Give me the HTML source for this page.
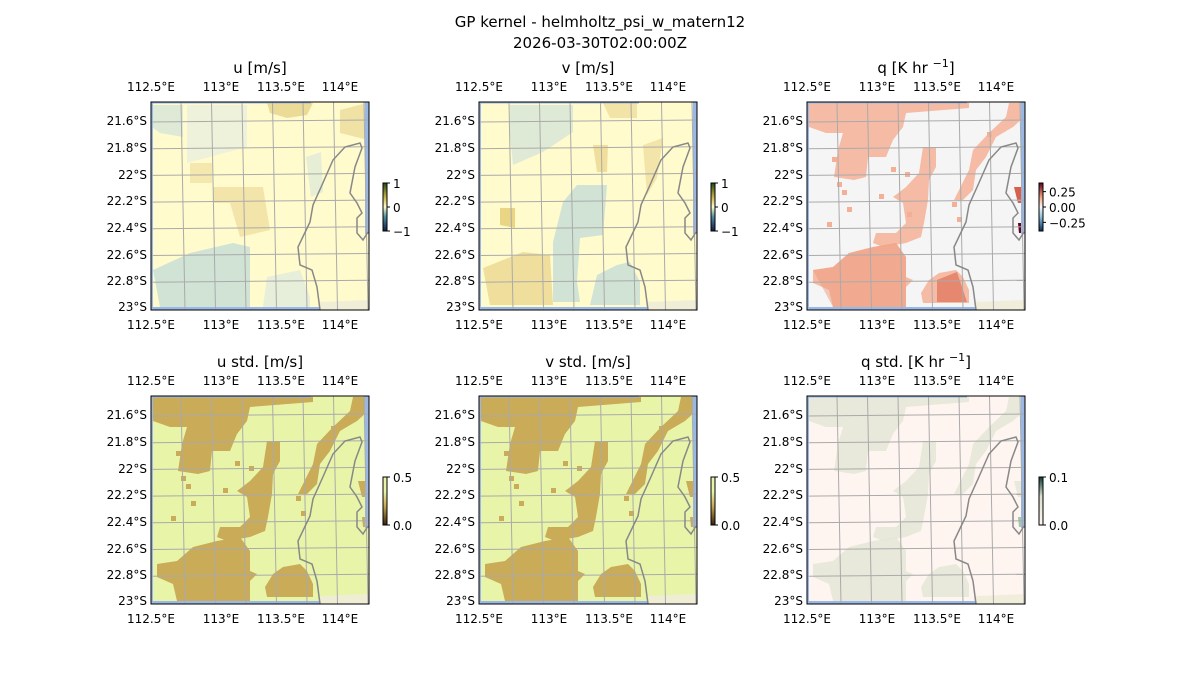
<!DOCTYPE html>
<html><head><meta charset="utf-8"><style>
body{margin:0;background:#fff;}
svg{display:block;font-family:"DejaVu Sans","Liberation Sans",sans-serif;}
</style></head><body>
<svg id="s" width="1200" height="700" xmlns="http://www.w3.org/2000/svg">
<defs>
<linearGradient id="gu" x1="0" y1="1" x2="0" y2="0"><stop offset="0" stop-color="#111d4a"/><stop offset="0.3" stop-color="#4f8fa0"/><stop offset="0.5" stop-color="#fffbcc"/><stop offset="0.7" stop-color="#c9b446"/><stop offset="1" stop-color="#1f4a18"/></linearGradient>
<linearGradient id="gq" x1="0" y1="1" x2="0" y2="0"><stop offset="0" stop-color="#053061"/><stop offset="0.3" stop-color="#92c5de"/><stop offset="0.5" stop-color="#f7f7f7"/><stop offset="0.7" stop-color="#f4a582"/><stop offset="1" stop-color="#67001f"/></linearGradient>
<linearGradient id="gs" x1="0" y1="1" x2="0" y2="0"><stop offset="0" stop-color="#3a2108"/><stop offset="0.4" stop-color="#c8aa55"/><stop offset="0.7" stop-color="#e8f5a8"/><stop offset="1" stop-color="#e8f5a8"/></linearGradient>
<linearGradient id="gqs" x1="0" y1="1" x2="0" y2="0"><stop offset="0" stop-color="#fff5f0"/><stop offset="0.6" stop-color="#d8e0cc"/><stop offset="1" stop-color="#0b3b3b"/></linearGradient>
</defs>
<text x="600" y="27" font-size="15" text-anchor="middle">GP kernel - helmholtz_psi_w_matern12</text>
<text x="600" y="48" font-size="15" text-anchor="middle">2026-03-30T02:00:00Z</text>
</svg>
<script>
var S=document.getElementById('s'),ns='http://www.w3.org/2000/svg';
function el(t,a,p,txt){var e=document.createElementNS(ns,t);for(var k in a)e.setAttribute(k,a[k]);if(txt!=null)e.textContent=txt;(p||S).appendChild(e);return e;}
function poly(g,pts,fill,op){el('polygon',{points:pts.map(function(p){return p.join(',')}).join(' '),fill:fill,'fill-opacity':op||1},g);}
var Q=[
[[1,1],[162,1],[162,6],[99,11],[96,25],[86,38],[79,55],[61,55],[59,75],[47,78],[27,75],[31,48],[36,31],[19,31],[2,25]],
[[116,45],[129,45],[129,65],[122,78],[121,98],[117,121],[114,135],[99,141],[76,145],[66,141],[69,131],[89,131],[99,121],[96,101],[86,95],[99,85],[112,71]],
[[6,168],[26,165],[42,151],[66,145],[89,141],[99,155],[99,175],[106,178],[99,185],[99,205],[26,205],[22,188],[6,181]],
[[122,178],[132,171],[149,168],[156,175],[162,188],[162,201],[116,201],[114,191]],
[[202,1],[217,1],[217,15],[206,25],[189,35],[179,55],[169,68],[166,88],[156,98],[147,98],[152,88],[162,68],[166,48],[182,31],[199,15]],
[[207,85],[217,85],[217,101],[211,101]],
[[211,121],[217,121],[217,131],[212,131]]];
var QS=[[25,55],[30,80],[40,105],[84,65],[98,70],[35,88],[100,110],[72,92],[150,115],[145,100],[180,30],[20,120]];
var coast=[[169,208],[166,185],[161,168],[149,163],[147,145],[159,120],[162,103],[171,83],[182,58],[194,45],[209,41],[211,46],[204,65],[199,91],[206,101],[211,111],[206,116],[206,131],[212,138],[217,130]];
var panels=[
{x:151,y:102,t:'u [m/s]',bg:'#fffbcc',cb:'gu',ticks:[['1',0],['0',0.5],['\u22121',1]],draw:function(g){
 poly(g,[[1,3],[32,3],[32,35],[9,31],[1,25]],'#d2e3da',0.7);
 poly(g,[[36,3],[96,3],[96,45],[36,61]],'#e4ede2',0.6);
 poly(g,[[2,168],[39,151],[82,141],[99,145],[99,205],[9,205]],'#c6ddd6',0.8);
 poly(g,[[116,175],[149,168],[159,195],[159,205],[112,205]],'#dde9df',0.7);
 poly(g,[[116,1],[162,1],[156,13],[136,16],[119,11]],'#e6d38a',0.8);
 poly(g,[[189,8],[216,1],[217,38],[189,31]],'#ecdc9a',0.8);
 poly(g,[[62,85],[112,85],[119,128],[89,135],[79,101],[62,101]],'#f0e0a0',0.8);
 poly(g,[[39,61],[61,61],[61,81],[39,81]],'#f2e4a8',0.8);
 poly(g,[[155,55],[170,50],[172,90],[160,95]],'#d6e6dc',0.6);}},
{x:479,y:102,t:'v [m/s]',bg:'#fffbcc',cb:'gu',ticks:[['1',0],['0',0.5],['\u22121',1]],draw:function(g){
 poly(g,[[31,3],[94,3],[94,30],[64,50],[34,63],[31,33]],'#d2e3da',0.7);
 poly(g,[[98,83],[128,83],[124,133],[101,136],[98,180],[101,200],[74,200],[74,140],[84,100]],'#c6ddd6',0.8);
 poly(g,[[118,173],[138,163],[151,160],[161,180],[161,203],[111,203]],'#c6ddd6',0.8);
 poly(g,[[4,166],[44,150],[71,153],[74,203],[11,203]],'#ecd890',0.8);
 poly(g,[[124,1],[158,1],[158,16],[131,16]],'#efdf9c',0.8);
 poly(g,[[164,43],[184,36],[178,76],[168,93]],'#f0e0a0',0.8);
 poly(g,[[114,43],[129,43],[128,70],[118,70]],'#ecd890',0.8);
 poly(g,[[21,106],[36,106],[36,126],[21,123]],'#e4cc70',0.8);}},
{x:807,y:102,t:'q [K hr ',sup:true,bg:'#f5f5f5',cb:'gq',ticks:[['0.25',0.18],['0.00',0.5],['\u22120.25',0.82]],draw:function(g){
 Q.forEach(function(p){poly(g,p,'#f4b096',0.85);});
 poly(g,[[6,168],[26,165],[42,151],[66,145],[89,141],[99,155],[99,205],[26,205]],'#ee9a7c',0.5);
 poly(g,[[130,178],[150,170],[160,200],[130,200]],'#e0705a',0.7);
 poly(g,[[207,85],[217,85],[217,101],[211,101]],'#d6604d');
 poly(g,[[211,121],[217,121],[217,131],[212,131]],'#67001f');
 QS.forEach(function(p){el('rect',{x:p[0],y:p[1],width:5,height:5,fill:'#f4b096'},g);});}},
{x:151,y:396,t:'u std. [m/s]',bg:'#e8f5a8',cb:'gs',ticks:[['0.5',0],['0.0',1]],draw:function(g){
 Q.forEach(function(p){poly(g,p,'#c9ab58');});
 QS.forEach(function(p){el('rect',{x:p[0],y:p[1],width:5,height:5,fill:'#c9ab58'},g);});}},
{x:479,y:396,t:'v std. [m/s]',bg:'#e8f5a8',cb:'gs',ticks:[['0.5',0],['0.0',1]],draw:function(g){
 Q.forEach(function(p){poly(g,p,'#c9ab58');});
 QS.forEach(function(p){el('rect',{x:p[0],y:p[1],width:5,height:5,fill:'#c9ab58'},g);});}},
{x:807,y:396,t:'q std. [K hr ',sup:true,bg:'#fff5f0',cb:'gqs',ticks:[['0.1',0],['0.0',1]],draw:function(g){
 Q.forEach(function(p){poly(g,p,'#e2e6d6',0.8);});
 poly(g,[[211,121],[217,121],[217,131],[212,131]],'#a8c8a0');}}
];
var xt=[['112.5\u00B0E',0],['113\u00B0E',70],['113.5\u00B0E',130],['114\u00B0E',189]];
var yt=[['21.6\u00B0S',19],['21.8\u00B0S',46],['22\u00B0S',73],['22.2\u00B0S',99],['22.4\u00B0S',126],['22.6\u00B0S',153],['22.8\u00B0S',179],['23\u00B0S',205]];
panels.forEach(function(P){
 var W=218,H=208;
 var tt=el('text',{x:P.x+109,y:P.y-29,'font-size':15,'text-anchor':'middle'},null,P.t);
 if(P.sup){el('tspan',{dy:-6,'font-size':11},tt,'\u22121');el('tspan',{dy:6},tt,']');}
 var g=el('g',{transform:'translate('+P.x+','+P.y+')'});
 el('rect',{x:0,y:0,width:W,height:H,fill:P.bg},g);
 P.draw(g);
 el('rect',{x:214,y:0,width:4,height:132,fill:'#9ab8e6'},g);
 el('rect',{x:0,y:205,width:170,height:3,fill:'#9ab8e6'},g);
 el('rect',{x:0,y:0,width:2,height:H,fill:'#9ab8e6'},g);
 el('rect',{x:0,y:0,width:160,height:1.5,fill:'#9ab8e6'},g);
 el('polygon',{points:'169,208 168,200 218,198 218,208',fill:'#f0ecd8','fill-opacity':0.9},g);
 for(var i=1;i<8;i++){var y=19+i*26.7-26.7;el('line',{x1:0,y1:y+1,x2:W,y2:y-1,stroke:'#aaaaaa','stroke-width':1},g);}
 for(var j=0;j<7;j++){var x=32+j*30.5;el('line',{x1:x-2,y1:0,x2:x+2,y2:H,stroke:'#aaaaaa','stroke-width':1},g);}
 el('polyline',{points:coast.map(function(p){return p.join(',')}).join(' '),fill:'none',stroke:'#888','stroke-width':1.5},g);
 el('rect',{x:0,y:0,width:W,height:H,fill:'none',stroke:'#000','stroke-width':1},g);
 xt.forEach(function(t){el('text',{x:P.x+t[1],y:P.y-11,'font-size':12,'text-anchor':'middle'},null,t[0]);
   el('text',{x:P.x+t[1],y:P.y+H+19,'font-size':12,'text-anchor':'middle'},null,t[0]);});
 yt.forEach(function(t){el('text',{x:P.x-4,y:P.y+t[1]+4,'font-size':12,'text-anchor':'end'},null,t[0]);});
 var cx=P.x+W+14,cy=P.y+81,ch=48;
 el('rect',{x:cx,y:cy,width:4,height:ch,fill:'url(#'+P.cb+')',stroke:'#000','stroke-width':1},null);
 P.ticks.forEach(function(t){var ty=cy+t[1]*ch;el('line',{x1:cx+4,y1:ty,x2:cx+7,y2:ty,stroke:'#000'});
   el('text',{x:cx+10,y:ty+5,'font-size':12},null,t[0]);});
});
</script>
</body></html>
